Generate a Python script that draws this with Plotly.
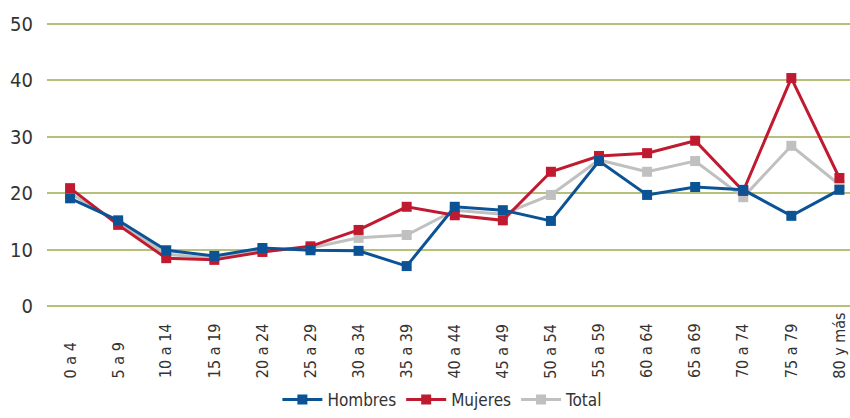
import plotly.graph_objects as go

categories = ["0 a 4", "5 a 9", "10 a 14", "15 a 19", "20 a 24", "25 a 29", "30 a 34",
              "35 a 39", "40 a 44", "45 a 49", "50 a 54", "55 a 59", "60 a 64", "65 a 69",
              "70 a 74", "75 a 79", "80 y más"]
hombres = [19.1, 15.2, 9.9, 8.9, 10.3, 9.9, 9.8, 7.1, 17.6, 17.0, 15.1, 25.7, 19.7, 21.1, 20.6, 16.0, 20.6]
mujeres = [20.9, 14.4, 8.5, 8.2, 9.6, 10.6, 13.5, 17.6, 16.1, 15.2, 23.8, 26.6, 27.1, 29.3, 20.4, 40.4, 22.7]
total = [20.0, 14.9, 9.2, 8.5, 9.9, 10.3, 12.1, 12.6, 17.0, 16.3, 19.7, 25.9, 23.8, 25.7, 19.3, 28.4, 21.5]
y_ticks = [0, 10, 20, 30, 40, 50]

FONT = "DejaVu Sans Condensed, Liberation Sans Narrow, sans-serif"

fig = go.Figure()
series = [("Hombres", hombres, "#0b5394", 1),
          ("Mujeres", mujeres, "#c01a30", 2),
          ("Total", total, "#c0c0c0", 3)]
for name, vals, col, rank in reversed(series):
    fig.add_trace(go.Scatter(
        x=categories, y=vals, name=name, mode="lines+markers",
        line=dict(color=col, width=3),
        marker=dict(symbol="square", size=10, color=col),
        legendrank=rank, cliponaxis=False,
    ))

for c in categories:
    fig.add_annotation(x=c, xref="x", y=-0.2476, yref="paper", text=c,
                       textangle=-90, showarrow=False, xanchor="center", yanchor="bottom",
                       font=dict(family=FONT, size=16, color="#333333"))

fig.update_layout(
    width=850, height=418,
    margin=dict(l=47, r=0, t=21, b=109),
    plot_bgcolor="white", paper_bgcolor="white",
    font=dict(family=FONT, size=16, color="#333333"),
    showlegend=True,
    legend=dict(orientation="h", x=0.493, xanchor="center", yref="container",
                y=-0.02, yanchor="bottom",
                font=dict(size=17, color="#333333"), itemwidth=40,
                traceorder="normal"),
    xaxis=dict(type="category", range=[-0.48, 16.22],
               showgrid=False, showline=False, zeroline=False, ticks="",
               showticklabels=False),
    yaxis=dict(range=[-0.5, 50.5], tickvals=y_ticks, showgrid=True,
               gridcolor="#b7c07a", gridwidth=1.5, zeroline=False, showline=False,
               ticks="", ticklabelstandoff=13,
               tickfont=dict(size=20, color="#333333")),
)
fig.write_html("out.html", config={"displayModeBar": False},
               post_script="document.body.style.margin='0';document.body.style.overflow='hidden';")
